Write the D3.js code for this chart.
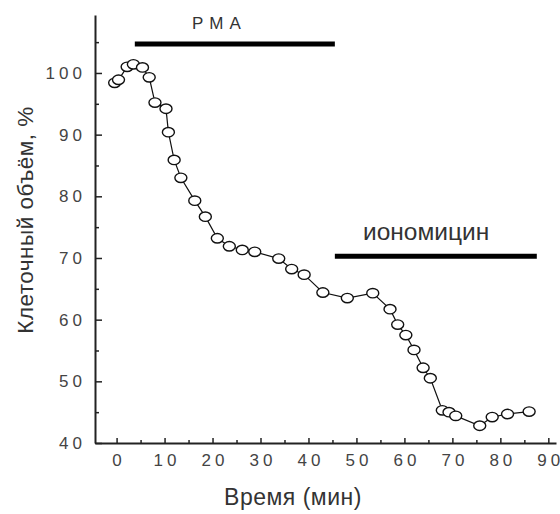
<!DOCTYPE html>
<html>
<head>
<meta charset="utf-8">
<script src="https://cdn.jsdelivr.net/npm/d3@7"></script>
<style>
	body { margin: 0; background: #fff; }
	svg { display: block; }
</style>
</head>
<body>
<svg id="chart" width="560" height="514"></svg>
<script>
// minutes
const TIME = [-0.4, 0.4, 2.2, 3.5, 5.4, 6.8, 8.0, 10.3, 10.8, 12.0, 13.4, 16.3, 18.5,
	21.0, 23.5, 26.2, 28.8, 33.8, 36.5, 39.1, 43.0, 48.1, 53.4, 57.0, 58.6, 60.3,
	62.0, 63.9, 65.4, 67.9, 69.3, 70.7, 75.7, 78.3, 81.5, 86.0];
// cell volume, %
const VOLUME = [98.4, 98.9, 101.0, 101.4, 100.9, 99.3, 95.2, 94.2, 90.4, 85.9, 83.0, 79.3, 76.7,
	73.2, 71.9, 71.3, 71.0, 69.9, 68.2, 67.3, 64.4, 63.5, 64.3, 61.7, 59.2, 57.5,
	55.1, 52.2, 50.5, 45.3, 45.0, 44.4, 42.8, 44.2, 44.7, 45.1];

const X_MAJOR = d3.range(0, 91, 10);
const X_MINOR = d3.range(5, 90, 10);
const Y_MAJOR = d3.range(40, 101, 10);
const Y_MINOR = d3.range(45, 106, 10);

// treatment bars [start, end] in minutes
const PMA_BAR = [3.8, 45.5];
const IONO_BAR = [45.5, 87.6];
const PMA_LEVEL = 104.7;
const IONO_LEVEL = 70.3;

const svg = d3.select("#chart");
const FONT = "'Liberation Sans', Arial, sans-serif";

const x = d3.scaleLinear().domain([-4.5, 91.6]).range([95, 556]);
const y = d3.scaleLinear().domain([40, 109.4]).range([443, 15]);

// per-character gaps without the trailing space that letter-spacing adds
function gaps(str, s) {
	return Array.from(str).map((c, i) => i === 0 ? 0 : s).join(" ");
}

// minor ticks first
svg.append("g")
	.attr("transform", `translate(0,${y(40)})`)
	.call(d3.axisBottom(x).tickValues(X_MINOR).tickSize(-3).tickFormat(""))
	.call(g => g.select(".domain").remove())
	.call(g => g.selectAll("line").attr("stroke", "#222").attr("stroke-width", 1.5));

svg.append("g")
	.attr("transform", `translate(${x(-4.5)},0)`)
	.call(d3.axisLeft(y).tickValues(Y_MINOR).tickSize(-4).tickFormat(""))
	.call(g => g.select(".domain").remove())
	.call(g => g.selectAll("line").attr("stroke", "#222").attr("stroke-width", 1.5));

const xAxis = svg.append("g")
	.attr("transform", `translate(0,${y(40)})`)
	.call(d3.axisBottom(x).tickValues(X_MAJOR).tickSize(-5).tickSizeOuter(0).tickPadding(11));

const yAxis = svg.append("g")
	.attr("transform", `translate(${x(-4.5)},0)`)
	.call(d3.axisLeft(y).tickValues(Y_MAJOR).tickSize(-7).tickSizeOuter(0).tickPadding(13));

for (const g of [xAxis, yAxis]) {
	g.select(".domain").attr("stroke", "#222").attr("stroke-width", 2);
	g.selectAll("line").attr("stroke", "#222").attr("stroke-width", 1.5);
	g.selectAll("text")
		.attr("fill", "#444")
		.attr("dx", d => gaps(String(d), 4))
		.style("font-family", FONT)
		.style("font-size", "17px");
}

// line + markers
const pts = TIME.map((t, i) => ({ t: t, v: VOLUME[i] }));
svg.append("path")
	.datum(pts)
	.attr("fill", "none")
	.attr("stroke", "#111")
	.attr("stroke-width", 1.2)
	.attr("d", d3.line().x(d => x(d.t)).y(d => y(d.v)));

svg.selectAll(".pt")
	.data(pts)
	.join("ellipse")
	.attr("class", "pt")
	.attr("cx", d => x(d.t))
	.attr("cy", d => y(d.v))
	.attr("rx", 6)
	.attr("ry", 4.7)
	.attr("fill", "#fff")
	.attr("stroke", "#111")
	.attr("stroke-width", 1.4);

// treatment bars
svg.append("line")
	.attr("x1", x(PMA_BAR[0])).attr("x2", x(PMA_BAR[1]))
	.attr("y1", y(PMA_LEVEL)).attr("y2", y(PMA_LEVEL))
	.attr("stroke", "#000").attr("stroke-width", 5);

svg.append("line")
	.attr("x1", x(IONO_BAR[0])).attr("x2", x(IONO_BAR[1]))
	.attr("y1", y(IONO_LEVEL)).attr("y2", y(IONO_LEVEL))
	.attr("stroke", "#000").attr("stroke-width", 5);

svg.append("text")
	.attr("x", 192).attr("y", 29)
	.attr("dx", gaps("PMA", 6))
	.attr("fill", "#333")
	.style("font-family", FONT)
	.style("font-size", "17px")
	.text("PMA");

svg.append("text")
	.attr("x", 363).attr("y", 240)
	.attr("fill", "#333")
	.style("font-family", FONT)
	.style("font-size", "24.5px")
	.text("иономицин");

// axis titles
svg.append("text")
	.attr("x", 293).attr("y", 505)
	.attr("text-anchor", "middle")
	.attr("fill", "#333")
	.style("font-family", FONT)
	.style("font-size", "23px")
	.style("letter-spacing", "0.5px")
	.text("Время (мин)");

svg.append("text")
	.attr("transform", "translate(33,220) rotate(-90)")
	.attr("text-anchor", "middle")
	.attr("fill", "#333")
	.style("font-family", FONT)
	.style("font-size", "22.5px")
	.style("letter-spacing", "0.5px")
	.text("Клеточный объём, %");
</script>
</body>
</html>
